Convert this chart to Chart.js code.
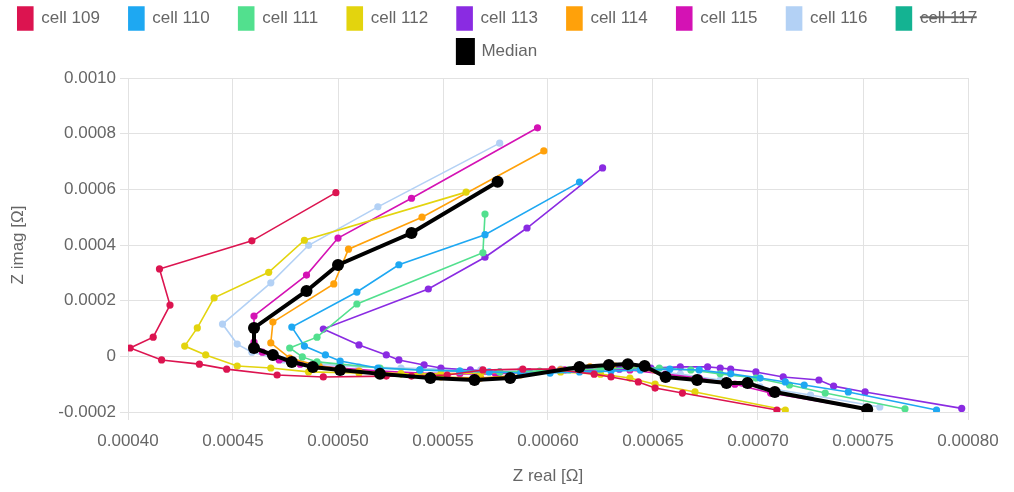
<!DOCTYPE html>
<html>
<head>
<meta charset="utf-8">
<script src="https://cdn.jsdelivr.net/npm/chart.js@4.4.1/dist/chart.umd.min.js"></script>
<style>
  html,body{margin:0;padding:0;background:#fff;}
</style>
</head>
<body>
<canvas id="nyquist" width="1014" height="492"></canvas>
<script>
// values, in micro-ohm (x = Z real, y = Z imag)
const UNIT = 1e-6;

const cellNames = ["cell 109","cell 110","cell 111","cell 112","cell 113","cell 114","cell 115","cell 116","cell 117"];
const cellColors = ["#DC1450","#1EA8F2","#52E08E","#E3D40E","#8A2BE2","#FFA10A","#D412B4","#B3D1F5","#14B392"];

const cell109Re = [709,664,651,643,630,622,602,588,569,552,535,523,493,471,447,434,416,401,412,420,415,459,499];
const cell109Im = [-193,-132,-114,-92,-74,-64,-46,-46,-49,-67,-71,-71,-74,-67,-46,-28,-13,30,69,184,314,415,588];

const cell110Re = [785,743,722,713,701,687,672,658,644,630,615,601,587,572,558,539,519,501,494,484,478,509,529,570,615];
const cell110Im = [-193,-128,-103,-92,-78,-63,-49,-46,-49,-53,-56,-60,-60,-56,-53,-49,-42,-17,5,37,105,231,329,437,626];

const cell111Re = [770,732,715,699,682,668,653,639,625,610,596,577,558,539,520,501,490,483,477,490,509,569,570];
const cell111Im = [-189,-132,-103,-78,-63,-49,-42,-42,-46,-49,-53,-56,-53,-49,-42,-28,-20,-2,30,69,188,372,511];

const cell112Re = [713,670,651,639,625,606,587,568,549,530,510,486,468,452,437,427,433,441,467,484,561];
const cell112Im = [-193,-128,-100,-78,-64,-56,-56,-60,-63,-63,-60,-56,-42,-35,5,37,102,210,302,417,590];

const cell113Re = [797,751,736,729,712,699,687,682,676,663,649,634,620,606,591,577,563,549,541,529,523,510,493,543,570,590,626];
const cell113Im = [-187,-128,-107,-85,-74,-56,-46,-42,-38,-38,-42,-46,-49,-53,-56,-56,-49,-42,-31,-13,5,41,98,242,356,461,677];

const cell114Re = [751,708,695,685,671,656,644,632,620,606,587,568,549,530,510,491,477,468,469,498,505,540,598];
const cell114Im = [-190,-128,-100,-92,-82,-71,-42,-35,-38,-49,-67,-78,-74,-63,-53,-35,-6,48,123,260,385,500,738];

const cell115Re = [751,706,689,672,656,639,625,608,591,575,558,539,520,501,482,472,464,460,460,485,500,535,595];
const cell115Im = [-190,-132,-100,-78,-64,-49,-46,-49,-56,-63,-63,-60,-53,-42,-28,-13,15,51,145,292,425,568,821];

const cell116Re = [758,725,701,682,663,644,625,606,587,568,549,530,510,491,474,459,452,445,468,486,519,577];
const cell116Im = [-182,-139,-110,-85,-64,-49,-46,-46,-49,-49,-46,-42,-38,-28,-13,15,44,116,264,399,537,766];

// hidden in the legend (struck through), values not visible in the picture
const cell117Re = [762,712,690,672,655,640,626,611,596,580,563,546,528,510,494,482,473,468,474,497,520,552,590];
const cell117Im = [-192,-124,-96,-78,-62,-48,-42,-45,-52,-60,-66,-66,-60,-50,-35,-16,8,40,118,250,370,480,660];

const medianRe = [752,708,695,685,671,656,646,638,629,615,582,565,544,520,501,488,478,469,460,460,485,500,535,576];
const medianIm = [-190,-128,-96,-96,-85,-74,-35,-28,-31,-38,-78,-85,-78,-63,-49,-38,-20,5,30,102,235,328,443,627];

const xTicks = [0.0004,0.00045,0.0005,0.00055,0.0006,0.00065,0.0007,0.00075,0.0008];
const yTicks = [-0.0002,0,0.0002,0.0004,0.0006,0.0008,0.001];

const cellRe = [cell109Re,cell110Re,cell111Re,cell112Re,cell113Re,cell114Re,cell115Re,cell116Re,cell117Re];
const cellIm = [cell109Im,cell110Im,cell111Im,cell112Im,cell113Im,cell114Im,cell115Im,cell116Im,cell117Im];

function toPoints(re, im){
  return re.map((r,i)=>({x:r*UNIT, y:im[i]*UNIT}));
}

Chart.defaults.font.family = "'Liberation Sans', Arial, sans-serif";
Chart.defaults.font.size = 17;
Chart.defaults.color = "#666";

const datasets = cellNames.map((name,i)=>({
  label: name,
  data: toPoints(cellRe[i], cellIm[i]),
  borderColor: cellColors[i],
  backgroundColor: cellColors[i],
  borderWidth: 1.6,
  pointRadius: 3.6,
  pointBorderWidth: 0,
  showLine: true,
  hidden: name==="cell 117",
  order: 1
}));
datasets.push({
  label: "Median",
  data: toPoints(medianRe, medianIm),
  borderColor: "#000",
  backgroundColor: "#000",
  borderWidth: 4,
  pointRadius: 6,
  pointBorderWidth: 0,
  showLine: true,
  order: 0
});

// a bit of extra room under the legend
const legendGap = {
  id: "legendGap",
  beforeInit(chart){
    const fit = chart.legend.fit;
    chart.legend.fit = function(){ fit.call(this); this.height += 5; };
  }
};

const pad = "\u00a0\u00a0\u00a0\u2009\u200a";
const ctx = document.getElementById("nyquist").getContext("2d");
const chart = new Chart(ctx, {
  type: "scatter",
  data: { datasets },
  plugins: [legendGap],
  options: {
    responsive: false,
    animation: false,
    layout: { padding: { left: 0, right: 0, top: -3, bottom: 0 } },
    plugins: {
      tooltip: { enabled: false },
      legend: {
        position: "top",
        labels: {
          boxWidth: 15,
          boxHeight: 23,
          padding: 10,
          color: "#666",
          sort: (a,b)=>a.datasetIndex-b.datasetIndex,
          generateLabels: (c)=>{
            const items = Chart.defaults.plugins.legend.labels.generateLabels(c);
            items.forEach(it=>{ it.text = it.text + pad; });
            return items;
          }
        }
      }
    },
    scales: {
      x: {
        type: "linear",
        min: xTicks[0],
        max: xTicks[xTicks.length-1],
        afterBuildTicks: (axis)=>{ axis.ticks = xTicks.map(v=>({value:v})); },
        afterFit: (axis)=>{ axis.height = 80; axis.paddingRight = 46; },
        ticks: { padding: 11, callback: (v)=>Number(v).toFixed(5) },
        grid: { color: "#e2e2e2" },
        border: { color: "#e2e2e2" },
        title: { display: true, text: "Z real [Ω]", padding: { top: 4, bottom: 5 } }
      },
      y: {
        type: "linear",
        min: yTicks[0],
        max: yTicks[yTicks.length-1],
        afterBuildTicks: (axis)=>{ axis.ticks = yTicks.map(v=>({value:v})); },
        afterFit: (axis)=>{ axis.width = 128; },
        ticks: { padding: 4, callback: (v)=> Math.abs(v) < 1e-12 ? "0" : Number(v).toFixed(4) },
        grid: { color: "#e2e2e2" },
        border: { color: "#e2e2e2" },
        title: { display: true, text: "Z imag [Ω]", padding: { top: 8, bottom: 4 } }
      }
    }
  }
});
</script>
</body>
</html>
